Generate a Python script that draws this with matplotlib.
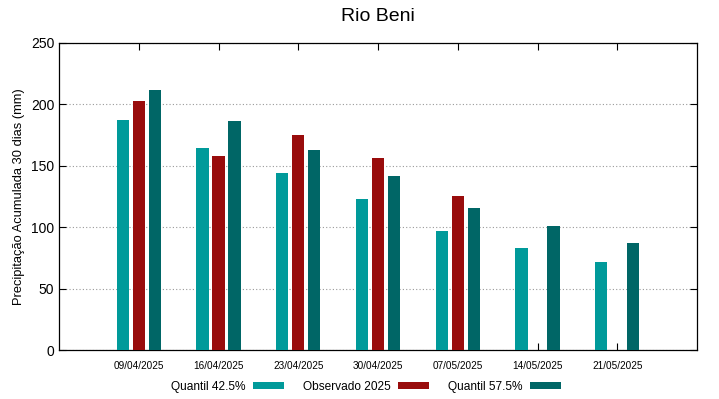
import numpy as np
import matplotlib.pyplot as plt

plt.rcParams['font.family'] = ['Liberation Sans', 'DejaVu Sans']

datas = ['09/04/2025', '16/04/2025', '23/04/2025', '30/04/2025',
         '07/05/2025', '14/05/2025', '21/05/2025']
q425 = [187, 164.7, 144, 123, 96.6, 82.8, 72]
obs2025 = [203, 158.2, 175, 156.4, 125.1, np.nan, np.nan]
q575 = [211.5, 186.5, 163, 142, 115.4, 101, 87]

fig = plt.figure(figsize=(7.19, 3.99), dpi=100)
ax = fig.add_axes([59 / 719, 1 - 350 / 399, 638 / 719, 307 / 399])

x = np.arange(len(datas))
w = 0.155
ax.bar(x - 0.2, q425, w, color='#009a9a', label='Quantil 42.5%', zorder=3)
ax.bar(x, obs2025, w, color='#990c0c', label='Observado 2025', zorder=3)
ax.bar(x + 0.2, q575, w, color='#006666', label='Quantil 57.5%', zorder=3)

ax.set_xlim(-1, 7)
ax.set_ylim(0, 250)
ax.set_yticks(range(0, 251, 50))
ax.set_xticks(x)
ax.set_xticklabels(datas, fontsize=7.2)
ax.tick_params(axis='y', labelsize=10)
ax.tick_params(direction='in', top=True, right=True, length=5)
ax.tick_params(axis='x', pad=8)
ax.grid(axis='y', linestyle=(0, (1, 2)), color='#999999', linewidth=0.8, zorder=0)
for s in ax.spines.values():
    s.set_linewidth(0.9)

ax.set_title('Rio Beni', fontsize=14, pad=16)
ax.set_ylabel('Precipitação Acumulada 30 dias (mm)', fontsize=9.3)

fig.legend(loc='center', bbox_to_anchor=(0.509, 1 - 387 / 399), ncol=3,
           markerfirst=False, frameon=False, fontsize=8.6,
           handlelength=2.6, handleheight=0.5, columnspacing=1.6, handletextpad=0.6)

fig.savefig('out.png', dpi=100)
